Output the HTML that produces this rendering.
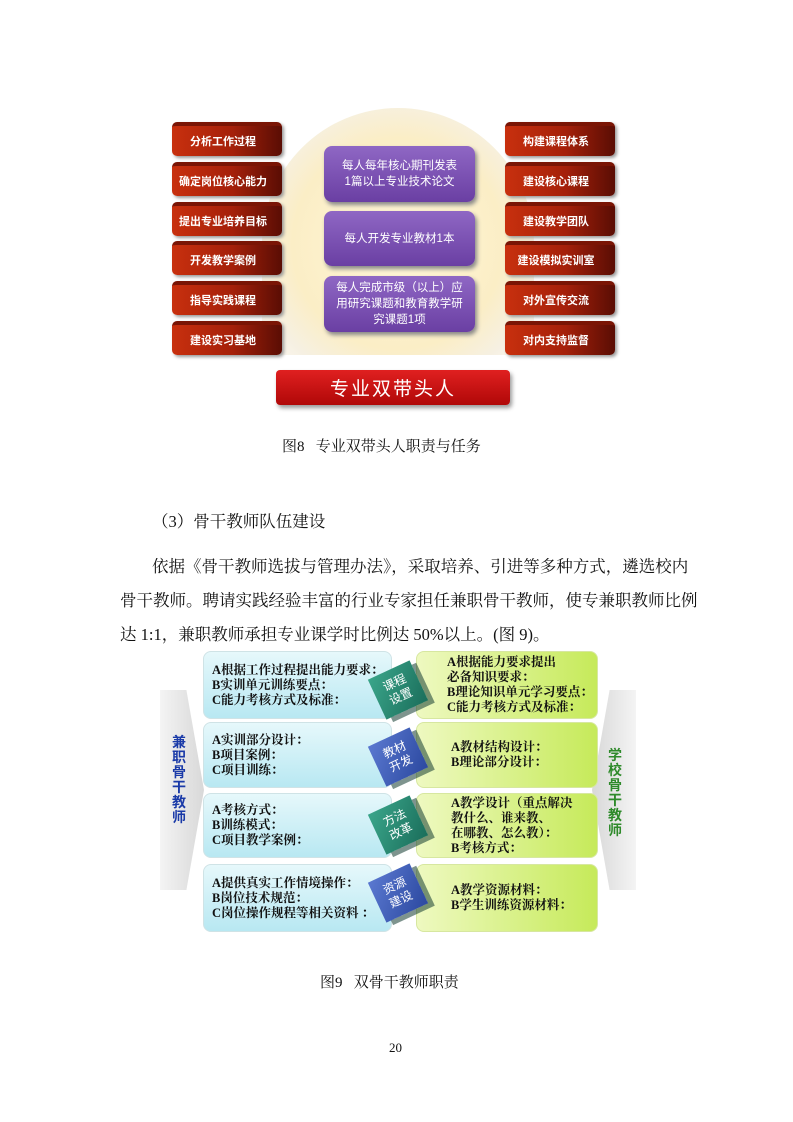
<!DOCTYPE html>
<html><head><meta charset="utf-8"><style>
body{margin:0;background:#fff;}
#p{position:relative;width:793px;height:1122px;overflow:hidden;font-family:"Liberation Serif","Noto Serif CJK SC",serif;color:#111;}
.a{position:absolute;}
.rb{position:absolute;width:110px;height:34px;border-radius:5px;background:linear-gradient(90deg,#c8300e 0%,#a5200a 55%,#5a0d04 100%);box-shadow:2px 2px 3px #999;color:#fff;font-family:"Liberation Sans","Noto Sans CJK SC",sans-serif;font-weight:bold;font-size:11px;display:flex;align-items:center;justify-content:center;padding-right:8px;box-sizing:border-box;border-top:4px solid #7a1505;}
.pb{position:absolute;left:324px;width:151px;border-radius:8px;background:linear-gradient(180deg,#8f67c4,#6a3fa3);box-shadow:2px 3px 4px #888;color:#fff;font-family:"Liberation Sans","Noto Sans CJK SC",sans-serif;font-size:11.5px;text-align:center;display:flex;align-items:center;justify-content:center;line-height:16px;}
.bl{position:absolute;left:203px;width:189px;border-radius:8px;background:linear-gradient(180deg,#e6f8fb,#b8e8f2);border:1px solid #cfe3e6;box-sizing:border-box;font-size:12.5px;font-weight:bold;line-height:15px;padding-left:8px;display:flex;flex-direction:column;justify-content:center;}
.bg{position:absolute;left:416px;width:182px;border-radius:8px;background:linear-gradient(90deg,#eef9c0,#c6ea5a);border:1px solid #d7e7a0;box-sizing:border-box;font-size:12.5px;font-weight:bold;line-height:15px;padding-left:34px;display:flex;flex-direction:column;justify-content:center;}
.cu{position:absolute;width:46px;height:44px;transform:rotate(-25deg);color:#fff;font-family:"Liberation Sans","Noto Sans CJK SC",sans-serif;font-size:12px;text-align:center;line-height:15px;display:flex;align-items:center;justify-content:center;box-shadow:5px 5px 0 rgba(20,60,50,.55);}
.line{position:absolute;font-size:16.5px;white-space:nowrap;}
</style></head><body><div id="p">
<div class="a" style="left:262px;top:108px;width:272px;height:247px;border-radius:136px 136px 0 0;background:radial-gradient(circle at 50% 55%,#fff6d8 0%,#fbeec6 55%,#f6f0e2 75%,#fff 100%);"></div>
<div class="rb" style="left:172px;top:122px;">分析工作过程</div>
<div class="rb" style="left:172px;top:162px;">确定岗位核心能力</div>
<div class="rb" style="left:172px;top:202px;">提出专业培养目标</div>
<div class="rb" style="left:172px;top:241px;">开发教学案例</div>
<div class="rb" style="left:172px;top:281px;">指导实践课程</div>
<div class="rb" style="left:172px;top:321px;">建设实习基地</div>
<div class="rb" style="left:505px;top:122px;">构建课程体系</div>
<div class="rb" style="left:505px;top:162px;">建设核心课程</div>
<div class="rb" style="left:505px;top:202px;">建设教学团队</div>
<div class="rb" style="left:505px;top:241px;">建设模拟实训室</div>
<div class="rb" style="left:505px;top:281px;">对外宣传交流</div>
<div class="rb" style="left:505px;top:321px;">对内支持监督</div>
<div class="pb" style="top:146px;height:56px;">每人每年核心期刊发表<br>1篇以上专业技术论文</div>
<div class="pb" style="top:211px;height:55px;">每人开发专业教材1本</div>
<div class="pb" style="top:276px;height:56px;">每人完成市级（以上）应<br>用研究课题和教育教学研<br>究课题1项</div>
<div class="a" style="left:276px;top:370px;width:234px;height:35px;border-radius:4px;background:linear-gradient(180deg,#e02020,#b00808);box-shadow:2px 3px 4px #999;color:#fff;font-family:'Liberation Sans','Noto Sans CJK SC',sans-serif;font-size:19px;display:flex;align-items:center;justify-content:center;letter-spacing:2px;">专业双带头人</div>
<div class="line" style="left:282px;top:435px;font-size:15px;">图8&nbsp;&nbsp;&nbsp;专业双带头人职责与任务</div>
<div class="line" style="left:152px;top:508px;">（3）骨干教师队伍建设</div>
<div class="line" style="left:152px;top:553px;width:520px;text-align:justify;text-align-last:justify;">依据《骨干教师选拔与管理办法》，采取培养、引进等多种方式，遴选校内</div>
<div class="line" style="left:120px;top:587px;width:552px;text-align:justify;text-align-last:justify;">骨干教师。聘请实践经验丰富的行业专家担任兼职骨干教师，使专兼职教师比例</div>
<div class="line" style="left:120px;top:621px;">达 1:1，兼职教师承担专业课学时比例达 50%以上。(图 9)。</div>
<div class="a" style="left:160px;top:690px;width:44px;height:200px;background:linear-gradient(90deg,#f4f4f4,#d8d8d8);clip-path:polygon(0 0,60% 0,100% 50%,60% 100%,0 100%,0 0);"></div>
<div class="a" style="left:592px;top:690px;width:44px;height:200px;background:linear-gradient(90deg,#d8d8d8,#f4f4f4);clip-path:polygon(40% 0,100% 0,100% 100%,40% 100%,0 50%);"></div>
<div class="a" style="left:172px;top:735px;width:16px;font-family:'Liberation Sans','Noto Sans CJK SC',sans-serif;font-weight:bold;font-size:14px;line-height:15px;color:#1a3aa8;">兼<br>职<br>骨<br>干<br>教<br>师</div>
<div class="a" style="left:608px;top:748px;width:16px;font-family:'Liberation Sans','Noto Sans CJK SC',sans-serif;font-weight:bold;font-size:14px;line-height:15px;color:#2e8a2a;">学<br>校<br>骨<br>干<br>教<br>师</div>
<div class="bl" style="top:651px;height:68px;">A根据工作过程提出能力要求：<br>B实训单元训练要点：<br>C能力考核方式及标准：</div>
<div class="bl" style="top:722px;height:66px;">A实训部分设计：<br>B项目案例：<br>C项目训练：</div>
<div class="bl" style="top:793px;height:65px;">A考核方式：<br>B训练模式：<br>C项目教学案例：</div>
<div class="bl" style="top:864px;height:68px;">A提供真实工作情境操作：<br>B岗位技术规范：<br>C岗位操作规程等相关资料 ：</div>
<div class="bg" style="top:651px;height:68px;padding-left:30px;">A根据能力要求提出<br>必备知识要求：<br>B理论知识单元学习要点：<br>C能力考核方式及标准：</div>
<div class="bg" style="top:722px;height:66px;">A教材结构设计：<br>B理论部分设计：</div>
<div class="bg" style="top:793px;height:65px;">A教学设计（重点解决<br>教什么、谁来教、<br>在哪教、怎么教）：<br>B考核方式：</div>
<div class="bg" style="top:864px;height:68px;">A教学资源材料：<br>B学生训练资源材料：</div>
<div class="cu" style="left:375px;top:668px;background:linear-gradient(135deg,#3aa58a,#1b6e5b);">课程<br>设置</div>
<div class="cu" style="left:375px;top:735px;background:linear-gradient(135deg,#5a78d0,#2c49a0);">教材<br>开发</div>
<div class="cu" style="left:375px;top:803px;background:linear-gradient(135deg,#3aa58a,#1b6e5b);">方法<br>改革</div>
<div class="cu" style="left:375px;top:871px;background:linear-gradient(135deg,#5a78d0,#2c49a0);">资源<br>建设</div>
<div class="line" style="left:320px;top:971px;font-size:15px;">图9&nbsp;&nbsp;&nbsp;双骨干教师职责</div>
<div class="line" style="left:389px;top:1040px;font-size:13px;">20</div>
</div></body></html>
